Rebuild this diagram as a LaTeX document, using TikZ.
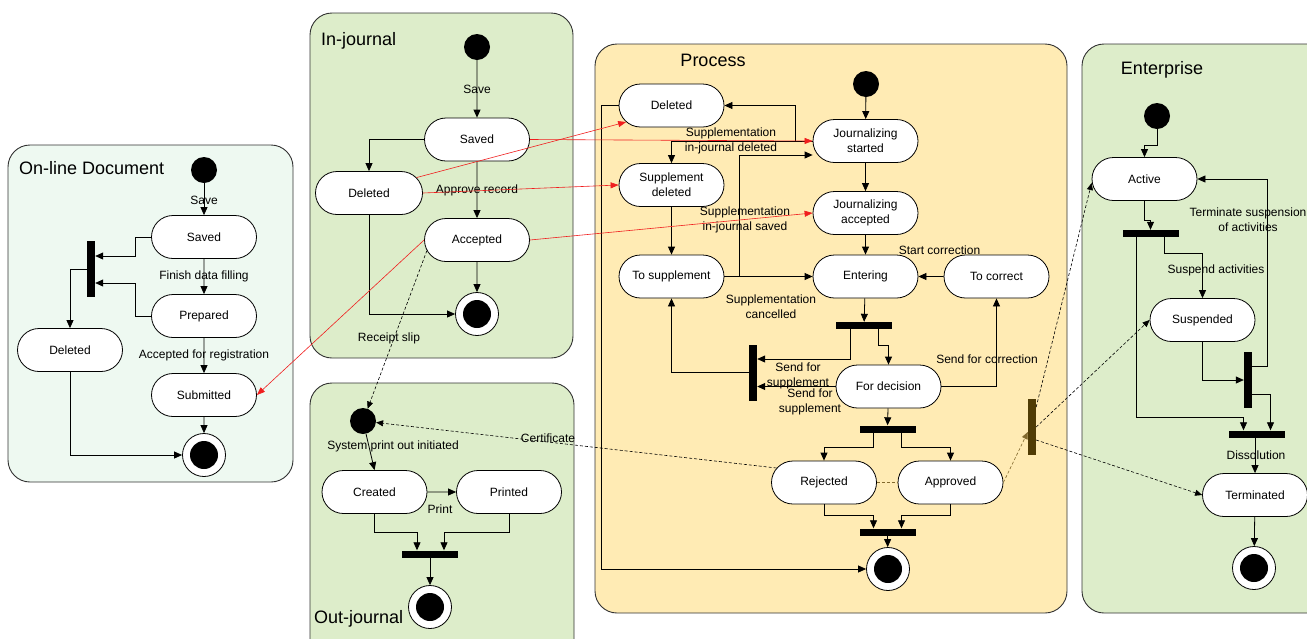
\documentclass[tikz,border=0pt]{standalone}
\usepackage{fontspec}
\setmainfont{Liberation Sans}
\usetikzlibrary{arrows.meta,shapes.misc,calc}
\definecolor{pale}{RGB}{238,249,241}
\definecolor{leaf}{RGB}{221,237,202}
\definecolor{sand}{RGB}{255,235,180}
\definecolor{umber}{RGB}{80,60,5}
\definecolor{olivebrown}{RGB}{130,105,45}
\definecolor{rline}{RGB}{240,30,30}
\definecolor{frame}{RGB}{50,50,50}

\begin{document}
\begin{tikzpicture}[x=1pt,y=-1pt,
  font=\fontsize{12}{15}\selectfont,
  areabox/.style={draw=frame, line width=0.9pt, rounded corners=22pt},
  heading/.style={font=\fontsize{18}{20}\selectfont, inner sep=0pt},
  statebox/.style={rounded rectangle, draw, fill=white, line width=0.8pt,
    minimum width=109pt, minimum height=43pt, inner sep=2pt, align=center},
  initdot/.style={circle, fill=black, minimum size=26pt, inner sep=0pt},
  enddot/.style={circle, draw, fill=white, line width=0.8pt, minimum size=43pt, inner sep=0pt,
    path picture={\fill[black] (path picture bounding box.center) circle (14pt);}},
  hbar/.style={fill=black, minimum width=56pt, minimum height=7pt, inner sep=0pt},
  vbar/.style={fill=black, minimum width=8pt, minimum height=56pt, inner sep=0pt},
  lbl/.style={inner sep=0pt, align=center},
  flowarr/.style={line width=0.8pt, -{Triangle[length=8pt,width=7pt]}},
  redlink/.style={rline, line width=0.6pt, -{Triangle[length=8pt,width=6pt]}},
  dasharr/.style={dash pattern=on 3pt off 2pt, line width=0.6pt, -{Triangle[length=7pt,width=6pt]}},
  brownline/.style={olivebrown, dash pattern=on 3pt off 2pt, line width=0.6pt}
]
\useasboundingbox (0,0) rectangle (1307,638);
\clip (0,0) rectangle (1307,638);

% ---------- swimlane frames ----------
\draw[areabox, fill=pale] (8,145) rectangle (293,482);
\draw[areabox, fill=leaf] (310,13) rectangle (573,358);
\draw[areabox, fill=leaf] (310,383) rectangle (574,662);
\draw[areabox, fill=sand] (595,44) rectangle (1067,613);
\draw[areabox, fill=leaf] (1082,44) rectangle (1345,613);

% ---------- On-line Document ----------
\node[heading, anchor=west] (od-title) at (19,168) {On-line Document};
\node[initdot] (od-init) at (204,170) {};
\node[statebox] (od-saved) at (204,237) {Saved};
\node[statebox] (od-prep) at (204,316) {Prepared};
\node[statebox] (od-sub) at (204,395) {Submitted};
\node[statebox] (od-del) at (70,350) {Deleted};
\node[enddot] (od-fin) at (204,455) {};
\node[vbar] (od-bar) at (91,269) {};

\draw[flowarr] (od-init) -- (od-saved);
\draw[flowarr] (od-saved) -- (od-prep);
\draw[flowarr] (od-prep) -- (od-sub);
\draw[flowarr] (od-sub) -- (od-fin);
\draw[flowarr] (od-saved.west) -- ++(-16,0) |- ([yshift=13pt]od-bar.east);
\draw[flowarr] (od-prep.west) -- ++(-16,0) |- ([yshift=-14pt]od-bar.east);
\draw[flowarr] (od-bar.west) -| (od-del.north);
\draw[flowarr] (od-del.south) |- (od-fin.west);

\node[lbl] (od-l1) at (204,200) {Save};
\node[lbl] (od-l2) at (204,276) {Finish data filling};
\node[lbl] (od-l3) at (204,355) {Accepted for registration};

% ---------- In-journal ----------
\node[heading, anchor=west] (ij-title) at (321,41) {In-journal};
\node[initdot] (ij-init) at (477,47) {};
\node[statebox] (ij-saved) at (477,139.5) {Saved};
\node[statebox, minimum width=111pt] (ij-del) at (369,193) {Deleted};
\node[statebox] (ij-acc) at (477,240) {Accepted};
\node[enddot] (ij-fin) at (477,314) {};

\draw[flowarr] (ij-init) -- (ij-saved);
\draw[flowarr] (ij-saved) -- (ij-acc);
\draw[flowarr] (ij-acc) -- (ij-fin);
\draw[flowarr] (ij-saved.west) -| (ij-del.north);
\draw[flowarr] (ij-del.south) |- (ij-fin.west);

\node[lbl] (ij-l1) at (477,89) {Save};
\node[lbl] (ij-l2) at (477,190) {Approve record};

% ---------- Out-journal ----------
\node[heading, anchor=west] (oj-title) at (314,619) {Out-journal};
\node[initdot] (oj-init) at (363,421) {};
\node[statebox] (oj-cre) at (374.5,492) {Created};
\node[statebox] (oj-pri) at (509,492) {Printed};
\node[hbar] (oj-bar) at (430,554) {};
\node[enddot] (oj-fin) at (430,607) {};

\draw[flowarr] (oj-init) -- (oj-cre.north);
\draw[flowarr] (oj-cre) -- (oj-pri);
\draw[flowarr] (oj-cre.south) -- ++(0,18) -| ([xshift=-13pt]oj-bar.north);
\draw[flowarr] (oj-pri.south) -- ++(0,18) -| ([xshift=14pt]oj-bar.north);
\draw[flowarr] (oj-bar) -- (oj-fin);

\node[lbl] (oj-l1) at (393,446) {System print out initiated};
\node[lbl] (oj-l2) at (440,509) {Print};

% ---------- Process ----------
\node[heading] (pr-title) at (713,60) {Process};
\node[statebox] (pr-del) at (671.5,105.5) {Deleted};
\node[statebox] (pr-sdel) at (671.5,185) {Supplement\\deleted};
\node[statebox] (pr-tosup) at (671.5,276.5) {To supplement};
\node[initdot] (pr-init) at (866,84) {};
\node[statebox] (pr-jst) at (865.5,141) {Journalizing\\started};
\node[statebox] (pr-jacc) at (865.5,213) {Journalizing\\accepted};
\node[statebox] (pr-ent) at (865.5,276.5) {Entering};
\node[statebox] (pr-tocor) at (996.5,276.5) {To correct};
\node[hbar] (pr-bar1) at (864,325.5) {};
\node[statebox] (pr-dec) at (888.5,386.5) {For decision};
\node[vbar] (pr-vbar) at (753,372.5) {};
\node[hbar] (pr-bar2) at (887.5,429) {};
\node[statebox] (pr-rej) at (824,482.5) {Rejected};
\node[statebox] (pr-app) at (950.5,482.5) {Approved};
\node[hbar] (pr-bar3) at (887.5,532) {};
\node[enddot] (pr-fin) at (888,569) {};
\node[vbar, fill=umber] (pr-bbar) at (1032,427) {};

\draw[flowarr] (pr-init) -- (pr-jst);
\draw[flowarr] (pr-jst) -- (pr-jacc);
\draw[flowarr] (pr-jacc) -- (pr-ent);
\draw[flowarr] (pr-tocor) -- (pr-ent);
\draw[flowarr] (pr-ent) -- (pr-bar1);
\draw[flowarr] (pr-jst.west) -- ++(-17,0) |- (pr-del.east);
\draw[flowarr] (pr-jst.west) -| (pr-sdel.north);
\draw[flowarr] (pr-tosup.east) -- ++(15,0) |- ([yshift=-14pt]pr-jst.west);
\draw[flowarr] (pr-tosup) -- (pr-ent);
\draw[flowarr] (pr-sdel) -- (pr-tosup);
\draw[flowarr] (pr-del.west) -- ++(-17,0) |- (pr-fin.west);
\draw[flowarr] ([xshift=-14pt]pr-bar1.south) |- ([yshift=13.5pt]pr-vbar.east);
\draw[flowarr] ([xshift=14pt]pr-bar1.south) -- ++(0,16) -| (pr-dec.north);
\draw[flowarr] (pr-dec.west) -- (pr-vbar.east |- pr-dec.west);
\draw[flowarr] (pr-vbar.west) -| (pr-tosup.south);
\draw[flowarr] (pr-dec.east) -| (pr-tocor.south);
\draw[flowarr] (pr-dec) -- (pr-bar2);
\draw[flowarr] ([xshift=-14pt]pr-bar2.south) -- ++(0,15) -| (pr-rej.north);
\draw[flowarr] ([xshift=14pt]pr-bar2.south) -- ++(0,15) -| (pr-app.north);
\draw[flowarr] (pr-rej.south) -- ++(0,11) -| ([xshift=-14pt]pr-bar3.north);
\draw[flowarr] (pr-app.south) -- ++(0,11) -| ([xshift=14pt]pr-bar3.north);
\draw[flowarr] (pr-bar3) -- (pr-fin);
\draw[brownline] (pr-rej.east) -- (pr-app.west);
\draw[brownline, -{Triangle[length=7pt,width=6pt]}] (pr-app.east) -- ([yshift=-5pt]pr-bbar.west);

\node[lbl] (pr-l1) at (731,140.5) {Supplementation\\in-journal deleted};
\node[lbl] (pr-l2) at (745,219.5) {Supplementation\\in-journal saved};
\node[lbl] (pr-l3) at (771,307) {Supplementation\\cancelled};
\node[lbl] (pr-l4) at (939.5,250) {Start correction};
\node[lbl] (pr-l5) at (798,376) {Send for\\supplement};
\node[lbl] (pr-l6) at (810,402) {Send for\\supplement};
\node[lbl] (pr-l7) at (987,359) {Send for correction};

% ---------- Enterprise ----------
\node[heading] (en-title) at (1162,70) {Enterprise};
\node[initdot] (en-init) at (1157,116) {};
\node[statebox] (en-act) at (1144.5,179) {Active};
\node[hbar] (en-barA) at (1150.5,233.5) {};
\node[statebox] (en-susp) at (1202.5,320) {Suspended};
\node[vbar] (en-barB) at (1248,380) {};
\node[hbar] (en-barC) at (1256.5,434) {};
\node[statebox] (en-term) at (1255,495) {Terminated};
\node[enddot] (en-fin) at (1254,568) {};

\draw[flowarr] (en-init.south) -- ++(0,16) -| (en-act.north);
\draw[flowarr] (en-act.south) -- ++(0,19) -| (en-barA.north);
\draw[flowarr] ([xshift=-14pt]en-barA.south) -- ++(0,180) -| ([xshift=-13pt]en-barC.north);
\draw[flowarr] ([xshift=14pt]en-barA.south) -- ++(0,16) -| (en-susp.north);
\draw[flowarr] (en-susp.south) |- (en-barB.west);
\draw[flowarr] ([yshift=14pt]en-barB.east) -- ++(15,0) |- (en-act.east);
\draw[flowarr] ([yshift=-14pt]en-barB.east) -| ([xshift=14pt]en-barC.north);
\draw[flowarr] (en-barC.south) -- (en-barC.south -| en-term.north) -- (en-term.north);
\draw[flowarr] (en-term) -- (en-fin);

\node[lbl] (en-l1) at (1216,270) {Suspend activities};
\node[lbl] (en-l2) at (1248,219.5) {Terminate suspension\\of activities};
\node[lbl] (en-l3) at (1256,455) {Dissolution};

% ---------- cross-lane links ----------
\draw[redlink] (ij-saved.east) -- (pr-jst.west);
\draw[redlink] (ij-del.18) -- (pr-del.200);
\draw[redlink] (ij-del.east) -- (pr-sdel.west);
\draw[redlink] (ij-acc.east) -- (pr-jacc.west);
\draw[redlink] (ij-acc.west) -- (od-sub.east);

\draw[dasharr] (ij-acc.192) -- (oj-init);
\node[lbl] (ij-l3) at (389,338) {Receipt slip};
\draw[dasharr] (pr-rej.163) -- (oj-init);
\node[lbl] (oj-l3) at (548,438) {Certificate};

\draw[dasharr] ([yshift=20pt]pr-bbar.east) -- ([yshift=-4pt]en-act.west);
\draw[dasharr] (pr-bbar.east) -- (en-susp.west);
\draw[dasharr] ([yshift=-13pt]pr-bbar.east) -- (en-term.west);
\end{tikzpicture}
\end{document}
